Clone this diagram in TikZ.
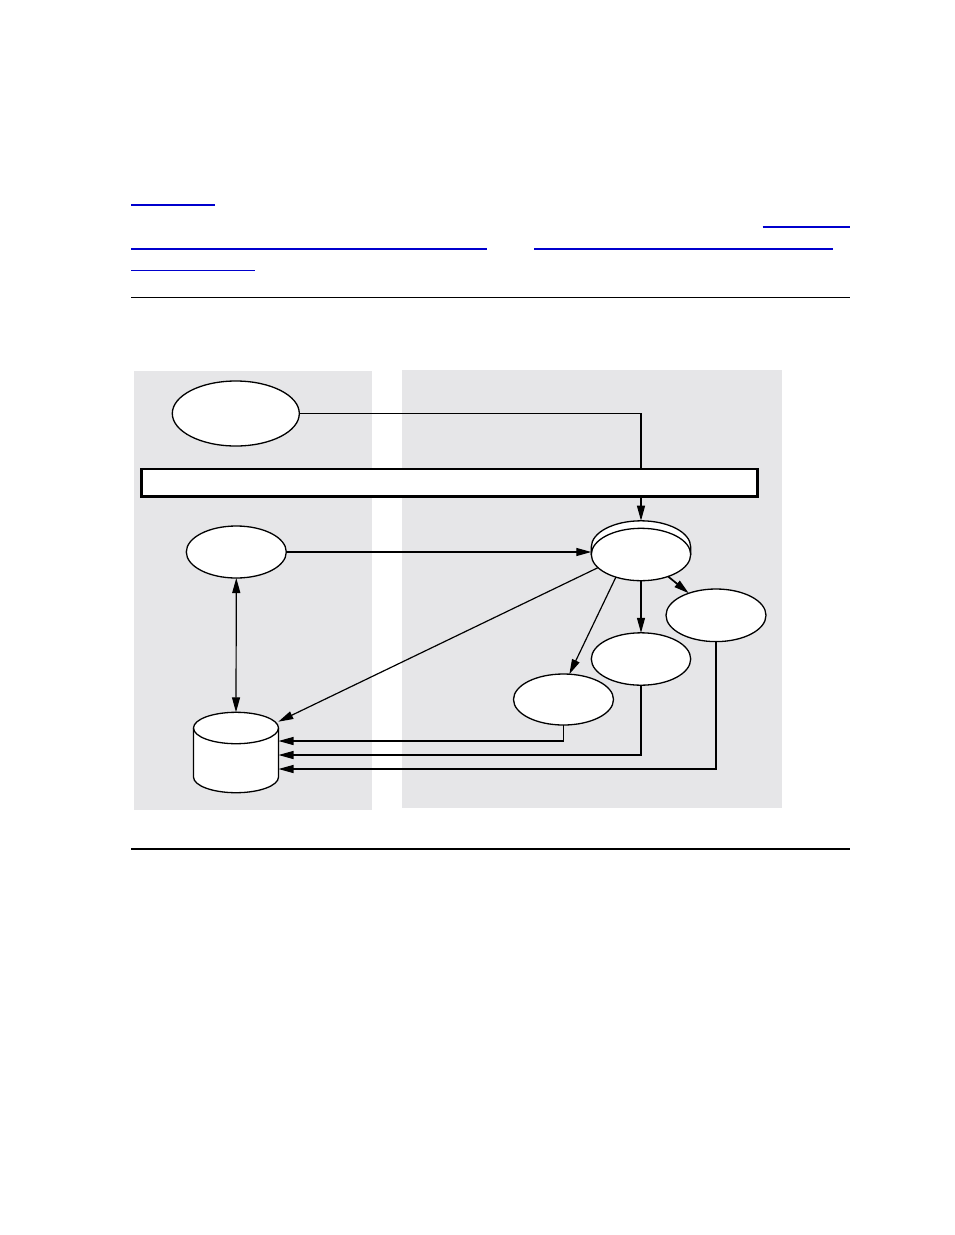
\documentclass[tikz,border=0pt]{standalone}
\usetikzlibrary{shapes.geometric,arrows.meta,calc}
\definecolor{panelgray}{RGB}{230,230,232}
\definecolor{linkblue}{RGB}{0,0,205}
\begin{document}
\begin{tikzpicture}[x=1pt,y=-1pt,
  oval/.style={ellipse,draw=black,fill=white,line width=1.3pt,inner sep=0pt,outer sep=0pt},
  conn/.style={draw=black,line width=1.2pt},
  arr/.style={conn,-{Triangle[length=15pt,width=8pt]}},
  darr/.style={conn,{Triangle[length=15pt,width=8pt]}-{Triangle[length=15pt,width=8pt]}},
  panel/.style={fill=panelgray,draw=none},
  link/.style={draw=linkblue,line width=1.3pt},
  rule/.style={draw=black,line width=1.3pt}]
\useasboundingbox (0,0) rectangle (954,1235);
\fill[white] (0,0) rectangle (954,1235);

% link underlines
\draw[link] (131,205) -- (215,205);
\draw[link] (762.5,227) -- (850,227);
\draw[link] (131,249) -- (487,249);
\draw[link] (534,249) -- (833,249);
\draw[link] (131,270.7) -- (254.5,270.7);
\draw[rule] (131,297.3) -- (850,297.3);
\draw[rule,line width=2pt] (131,849) -- (850,849);

% panels
\fill[panel] (134,371) rectangle (372,809.5);
\fill[panel] (402,370) rectangle (781.7,808);

% nodes
\node[oval,minimum width=127pt,minimum height=65pt] (e1) at (235.8,413.5) {};
\node[oval,minimum width=100pt,minimum height=52pt] (e2) at (236.3,552) {};
\node[oval,minimum width=100pt,minimum height=52.6pt] (e3) at (716,615.3) {};
\node[oval,minimum width=99.4pt,minimum height=52.4pt] (e4) at (641,659) {};
\node[oval,minimum width=100pt,minimum height=51pt] (e5) at (563.5,699.5) {};

% process node with rim
\coordinate (rimtop) at (641,520.7);
\filldraw[fill=white,draw=black,line width=1.3pt] (591.3,554.5) -- (591.3,547) arc (180:0:49.7pt and 26.2pt) -- (690.7,554.5);
\node[oval,minimum width=99.4pt,minimum height=52.4pt] (proc) at (641,554.5) {};

% database cylinder
\node[minimum width=85pt,minimum height=80.5pt,inner sep=0pt] (db) at (236,752.5) {};
\filldraw[fill=white,draw=black,line width=1.3pt]
  (193.5,728) -- (193.5,777) arc (180:360:42.5pt and 15.7pt) -- (278.5,728) arc (0:180:42.5pt and 15.7pt) -- cycle;
\draw[line width=1.3pt] (193.5,728) arc (180:360:42.5pt and 15.7pt);
\coordinate (dbtop) at (236,712.3);
\coordinate (dbin0) at (278.3,721.7);
\coordinate (dbin1) at (278.5,741);
\coordinate (dbin2) at (278.5,755);
\coordinate (dbin3) at (278.5,769);

% connectors
\draw[arr] (e1.east) -| (rimtop);
\draw[arr] (e2.east) -- (e2.east -| proc.west);
\draw[arr] (proc.south) -- (e4.north);
\draw[arr,line width=1.7pt] (proc) -- (e3);
\draw[arr] (proc.222) -- (e5.77);
\draw[arr] (proc.197) -- (dbin0);
\draw[arr] (e5.south) |- (dbin1);
\draw[arr] (e4.south) |- (dbin2);
\draw[arr] (e3.south) |- (dbin3);
\draw[darr] (e2.south) -- (dbtop);

% bar drawn over the connector
\node[draw=black,fill=white,line width=2.8pt,minimum width=616pt,minimum height=27.5pt,inner sep=0pt] (bar) at (449.2,482.7) {};
\end{tikzpicture}
\end{document}
